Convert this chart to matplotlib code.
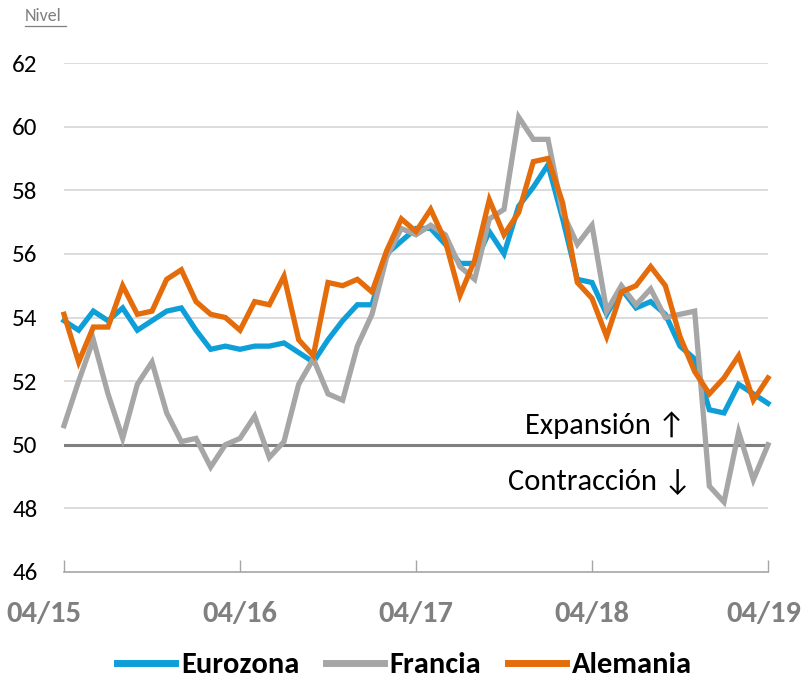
import matplotlib
matplotlib.use("Agg")
import matplotlib.pyplot as plt
from matplotlib import font_manager
from matplotlib.lines import Line2D
from matplotlib.transforms import ScaledTranslation

# ---- data (composite PMI, Apr 2015 - Apr 2019) ----
eurozona = [53.9, 53.6, 54.2, 53.9, 54.3, 53.6, 53.9, 54.2, 54.3, 53.6, 53.0, 53.1,
            53.0, 53.1, 53.1, 53.2, 52.9, 52.6, 53.3, 53.9, 54.4, 54.4, 56.0, 56.4,
            56.8, 56.8, 56.3, 55.7, 55.7, 56.7, 56.0, 57.5, 58.1, 58.8, 57.1, 55.2,
            55.1, 54.1, 54.9, 54.3, 54.5, 54.1, 53.1, 52.7, 51.1, 51.0, 51.9, 51.6, 51.3]
francia = [50.6, 52.0, 53.3, 51.6, 50.2, 51.9, 52.6, 51.0, 50.1, 50.2, 49.3, 50.0,
           50.2, 50.9, 49.6, 50.1, 51.9, 52.7, 51.6, 51.4, 53.1, 54.1, 55.9, 56.8,
           56.6, 56.9, 56.6, 55.6, 55.2, 57.1, 57.4, 60.3, 59.6, 59.6, 57.3, 56.3,
           56.9, 54.2, 55.0, 54.4, 54.9, 54.0, 54.1, 54.2, 48.7, 48.2, 50.4, 48.9, 50.0]
alemania = [54.1, 52.6, 53.7, 53.7, 55.0, 54.1, 54.2, 55.2, 55.5, 54.5, 54.1, 54.0,
            53.6, 54.5, 54.4, 55.3, 53.3, 52.8, 55.1, 55.0, 55.2, 54.8, 56.1, 57.1,
            56.7, 57.4, 56.4, 54.7, 55.8, 57.7, 56.6, 57.3, 58.9, 59.0, 57.6, 55.1,
            54.6, 53.4, 54.8, 55.0, 55.6, 55.0, 53.4, 52.3, 51.6, 52.1, 52.8, 51.4, 52.1]
tick_pos = [0, 12, 24, 36, 48]
tick_labels = ["04/15", "04/16", "04/17", "04/18", "04/19"]
y_ticks = [46, 48, 50, 52, 54, 56, 58, 60, 62]
series_names = ["Eurozona", "Francia", "Alemania"]
colors = ["#0e9fd8", "#a6a6a6", "#e46c0a"]

available = {f.name for f in font_manager.fontManager.ttflist}
def pick(*names):
    for n in names:
        if n in available:
            return n
    return "DejaVu Sans"

reg_font = pick("Carlito", "Lato", "Open Sans")
cond_font = pick("Carlito", "Liberation Sans Narrow", "Roboto Condensed", "Lato")
plt.rcParams["font.family"] = [reg_font, "DejaVu Sans"]

fig = plt.figure(figsize=(8.09, 6.79), dpi=100)
ax = fig.add_axes([64/809, 1-572/679, (768-64)/809, (572-63)/679])

x = list(range(len(eurozona)))
for vals, c in zip([eurozona, francia, alemania], colors):
    ax.plot(x, vals, color=c, lw=3.8, solid_joinstyle="miter", clip_on=False, zorder=3)

ax.set_xlim(0, 48)
ax.set_ylim(46, 62)
ax.set_yticks(y_ticks)
ax.set_yticklabels([str(v) for v in y_ticks], fontsize=18, color="black", family=[reg_font, "DejaVu Sans"])
for v in y_ticks:
    if v == 50:
        ax.axhline(v, color="#7f7f7f", lw=2.2, zorder=2)
    elif v != 46:
        ax.axhline(v, color="#d9d9d9", lw=1.3, zorder=1)

ax.set_xticks(tick_pos)
ax.set_xticklabels(tick_labels, fontsize=22, fontweight="bold", color="#808080",
                   family=[cond_font, "DejaVu Sans"])
ax.tick_params(axis="x", direction="in", length=9, width=1, color="#a6a6a6", pad=21)
ax.tick_params(axis="y", length=0, pad=19)
for s in ["top", "right", "left"]:
    ax.spines[s].set_visible(False)
ax.spines["bottom"].set_color("#a6a6a6")
ax.spines["bottom"].set_linewidth(1.2)

xlabs = ax.get_xticklabels()
xlabs[0].set_transform(xlabs[0].get_transform() + ScaledTranslation(-20/100, 0, fig.dpi_scale_trans))
xlabs[-1].set_transform(xlabs[-1].get_transform() + ScaledTranslation(-4/100, 0, fig.dpi_scale_trans))

ax.text(0.882, 0.289, "Expansión ↑", transform=ax.transAxes, ha="right", va="center",
        fontsize=22, color="black", family=[reg_font, "DejaVu Sans"])
ax.text(0.892, 0.177, "Contracción ↓", transform=ax.transAxes, ha="right", va="center",
        fontsize=22, color="black", family=[reg_font, "DejaVu Sans"])

# "Nivel" label, underlined
fig.text(25/809, 1-16/679, "Nivel", ha="left", va="center", fontsize=13, color="#7f7f7f")
fig.add_artist(Line2D([25/809, 66/809], [1-26/679, 1-26/679], color="#7f7f7f", lw=0.9))

handles = [Line2D([], [], color=c, lw=5) for c in colors]
leg = fig.legend(handles, series_names, loc="center", bbox_to_anchor=(0.5, 1-665/679),
                 ncol=3, frameon=False, handlelength=1.9, handletextpad=0.2,
                 columnspacing=0.85, prop={"family": [cond_font, "DejaVu Sans"],
                                           "weight": "bold", "size": 22})

fig.savefig("out.png", dpi=100)
